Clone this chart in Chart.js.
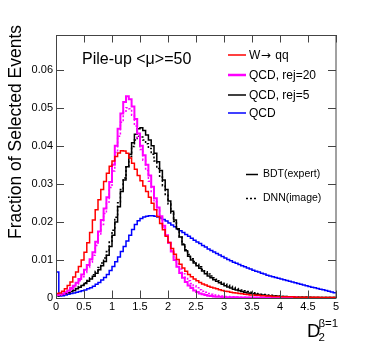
<!DOCTYPE html>
<html><head><meta charset="utf-8">
<script src="https://cdn.jsdelivr.net/npm/chart.js@4"></script>
<style>html,body{margin:0;padding:0;background:#fff;}canvas{display:block;}</style>
</head><body>
<canvas id="c" width="374" height="352"></canvas>
<script>
const binWidth = 0.05;
const xTicks = [0, 0.5, 1, 1.5, 2, 2.5, 3, 3.5, 4, 4.5, 5];
const xTickLabels = ['0', '0.5', '1', '1.5', '2', '2.5', '3', '3.5', '4', '4.5', '5'];
const yTicks = [0, 0.01, 0.02, 0.03, 0.04, 0.05, 0.06];
const yTickLabels = ['0', '0.01', '0.02', '0.03', '0.04', '0.05', '0.06'];
const seriesNames = ['W\u2192 qq', 'QCD, rej=20', 'QCD, rej=5', 'QCD'];
const styleNames = ['BDT(expert)', 'DNN(image)'];

const wqq = [0.0012,0.0013,0.0018,0.0024,0.0033,0.0042,0.0055,0.0068,0.0083,0.0100,
 0.0120,0.0145,0.0172,0.0205,0.0232,0.0258,0.0285,0.0306,0.0328,0.0346,
 0.0360,0.0372,0.0381,0.0387,0.0386,0.0380,0.0368,0.0354,0.0338,0.0322,
 0.0308,0.0294,0.0280,0.0265,0.0249,0.0232,0.0214,0.0196,0.0179,0.0162,
 0.0146,0.0130,0.0115,0.0101,0.0089,0.0079,0.0070,0.0062,0.0056,0.0050,
 0.0045,0.0041,0.0037,0.0034,0.0031,0.0028,0.0026,0.0024,0.0022,0.0020,
 0.0018,0.0017,0.0015,0.0014,0.0013,0.0012,0.0011,0.0010,0.0009,0.0008,
 0.0008,0.0007,0.0007,0.0006,0.0006,0.0005,0.0005,0.0004,0.0004,0.0004,
 0.0003,0.0003,0.0003,0.0003,0.0003,0.0002,0.0002,0.0002,0.0002,0.0002,
 0.0002,0.0002,0.0002,0.0002,0.0001,0.0001,0.0001,0.0001,0.0001,0.0001];

const qcdRej20Bdt = [0.0008,0.0009,0.0011,0.0015,0.0020,0.0026,0.0032,0.0040,0.0050,0.0062,
 0.0074,0.0087,0.0102,0.0120,0.0148,0.0175,0.0205,0.0235,0.0265,0.0305,
 0.0350,0.0400,0.0445,0.0485,0.0515,0.0530,0.0522,0.0503,0.0470,0.0432,
 0.0400,0.0375,0.0350,0.0322,0.0292,0.0262,0.0238,0.0215,0.0190,0.0165,
 0.0145,0.0122,0.0100,0.0082,0.0066,0.0053,0.0042,0.0033,0.0026,0.0020,
 0.0016,0.0012,0.0010,0.0008,0.0006,0.0005,0.0004,0.0003,0.0003,0.0002,
 0.0002,0.0002,0.0002,0.0002,0.0002,0.0001,0.0001,0.0001,0.0001,0.0001,
 0.0001,0.0001,0.0001,0.0001,0.0001,0.0001,0.0001,0.0001,0.0001,0.0001,
 0.0001,0.0001,0.0001,0.0001,0.0001,0.0001,0,0,0,0,
 0,0,0,0,0,0,0,0,0,0];

const qcdRej20Dnn = [0.0007,0.0008,0.0010,0.0013,0.0018,0.0023,0.0029,0.0036,0.0045,0.0056,
 0.0067,0.0080,0.0094,0.0112,0.0138,0.0165,0.0193,0.0222,0.0252,0.0290,
 0.0334,0.0382,0.0425,0.0462,0.0488,0.0500,0.0497,0.0480,0.0452,0.0420,
 0.0390,0.0362,0.0335,0.0307,0.0280,0.0253,0.0230,0.0207,0.0185,0.0163,
 0.0143,0.0124,0.0106,0.0090,0.0076,0.0064,0.0054,0.0045,0.0038,0.0032,
 0.0027,0.0022,0.0018,0.0015,0.0012,0.0010,0.0008,0.0007,0.0006,0.0005,
 0.0004,0.0004,0.0003,0.0003,0.0002,0.0002,0.0002,0.0002,0.0001,0.0001,
 0.0001,0.0001,0.0001,0.0001,0.0001,0.0001,0.0001,0.0001,0.0001,0.0001,
 0.0001,0.0001,0.0001,0.0001,0.0001,0.0001,0,0,0,0,
 0,0,0,0,0,0,0,0,0,0];

const qcdRej5Bdt = [0.0006,0.0008,0.0010,0.0012,0.0014,0.0017,0.0020,0.0024,0.0028,0.0033,
 0.0038,0.0044,0.0050,0.0057,0.0065,0.0074,0.0085,0.0096,0.0112,0.0135,
 0.0165,0.0200,0.0240,0.0280,0.0310,0.0345,0.0378,0.0408,0.0430,0.0445,
 0.0447,0.0440,0.0428,0.0415,0.0400,0.0380,0.0358,0.0335,0.0310,0.0285,
 0.0255,0.0228,0.0205,0.0182,0.0160,0.0140,0.0124,0.0110,0.0100,0.0092,
 0.0085,0.0078,0.0071,0.0064,0.0058,0.0053,0.0048,0.0044,0.0040,0.0036,
 0.0032,0.0029,0.0026,0.0023,0.0021,0.0019,0.0017,0.0015,0.0013,0.0012,
 0.0011,0.0010,0.0009,0.0008,0.0007,0.0006,0.0006,0.0005,0.0005,0.0004,
 0.0004,0.0004,0.0003,0.0003,0.0003,0.0002,0.0002,0.0002,0.0002,0.0002,
 0.0001,0.0001,0.0001,0.0001,0.0001,0.0001,0.0001,0.0001,0.0001,0.0001];

const qcdRej5Dnn = [0.0006,0.0008,0.0010,0.0012,0.0015,0.0018,0.0021,0.0025,0.0030,0.0035,
 0.0040,0.0046,0.0053,0.0061,0.0070,0.0080,0.0092,0.0105,0.0122,0.0147,
 0.0178,0.0212,0.0250,0.0285,0.0315,0.0345,0.0372,0.0398,0.0415,0.0425,
 0.0423,0.0415,0.0405,0.0393,0.0378,0.0360,0.0340,0.0318,0.0295,0.0272,
 0.0247,0.0223,0.0201,0.0180,0.0160,0.0142,0.0127,0.0114,0.0103,0.0096,
 0.0089,0.0082,0.0075,0.0069,0.0063,0.0058,0.0053,0.0049,0.0045,0.0041,
 0.0037,0.0034,0.0031,0.0028,0.0025,0.0023,0.0021,0.0019,0.0017,0.0015,
 0.0014,0.0012,0.0011,0.0010,0.0009,0.0008,0.0007,0.0007,0.0006,0.0005,
 0.0004,0.0004,0.0004,0.0003,0.0003,0.0003,0.0002,0.0002,0.0002,0.0002,
 0.0002,0.0001,0.0001,0.0001,0.0001,0.0001,0.0001,0.0001,0.0001,0.0001];

const qcd = [0.0068,0.0005,0.0006,0.0008,0.0010,0.0012,0.0013,0.0015,0.0017,0.0019,
 0.0021,0.0024,0.0027,0.0031,0.0036,0.0041,0.0047,0.0054,0.0062,0.0072,
 0.0083,0.0095,0.0108,0.0122,0.0135,0.0150,0.0165,0.0180,0.0193,0.0203,
 0.0209,0.0213,0.0215,0.0216,0.0216,0.0215,0.0213,0.0210,0.0206,0.0202,
 0.0197,0.0192,0.0187,0.0182,0.0177,0.0172,0.0167,0.0162,0.0157,0.0152,
 0.0147,0.0143,0.0138,0.0134,0.0129,0.0125,0.0121,0.0117,0.0113,0.0109,
 0.0105,0.0101,0.0098,0.0094,0.0091,0.0088,0.0085,0.0082,0.0079,0.0076,
 0.0073,0.0070,0.0068,0.0065,0.0063,0.0060,0.0058,0.0056,0.0054,0.0052,
 0.0050,0.0048,0.0046,0.0044,0.0042,0.0040,0.0038,0.0036,0.0034,0.0032,
 0.0030,0.0028,0.0027,0.0025,0.0023,0.0022,0.0020,0.0018,0.0016,0.0014];

// histogram outline: start at the axis, one point per lower bin edge, close at the upper edge
function histPoints(vals) {
  const pts = [{x: 0, y: 0}];
  vals.forEach((v, i) => pts.push({x: i * binWidth, y: v}));
  pts.push({x: vals.length * binWidth, y: vals[vals.length - 1]});
  return pts;
}

function ds(label, vals, color, width, dash) {
  return {label, data: histPoints(vals), borderColor: color, borderWidth: width,
    borderDash: dash || [], stepped: 'before', pointRadius: 0, fill: false, tension: 0};
}

const FONT = "'Liberation Sans', Arial, Helvetica, sans-serif";
Chart.defaults.font.family = FONT;

const overlay = {
  id: 'overlay',
  afterDatasetsDraw(chart) {
    const {ctx, chartArea: a, scales: {x, y}} = chart;
    ctx.save();
    ctx.strokeStyle = '#444';
    ctx.lineWidth = 1;
    ctx.strokeRect(a.left + 0.5, a.top + 0.5, a.right - a.left - 0.5, a.bottom - a.top);
    ctx.beginPath();
    xTicks.forEach(v => {
      const px = Math.round(x.getPixelForValue(v)) + 0.5;
      ctx.moveTo(px, a.bottom); ctx.lineTo(px, a.bottom - 7.5);
      ctx.moveTo(px, a.top); ctx.lineTo(px, a.top + 7.5);
    });
    yTicks.forEach(v => {
      const py = Math.round(y.getPixelForValue(v)) + 0.5;
      ctx.moveTo(a.left, py); ctx.lineTo(a.left + 8, py);
      ctx.moveTo(a.right, py); ctx.lineTo(a.right - 8, py);
    });
    ctx.stroke();

    ctx.fillStyle = '#000';
    ctx.textBaseline = 'middle';
    ctx.textAlign = 'left';
    ctx.font = '16px ' + FONT;
    ctx.fillText('Pile-up <\u03bc>=50', 82, 60);

    // legend
    const legColors = ['#ff0000', '#ff00ff', '#000000', '#0000ff'];
    const legWidths = [1.5, 2.5, 1.5, 1.5];
    const legY = [55, 75, 95, 113];
    ctx.font = '12px ' + FONT;
    seriesNames.forEach((n, i) => {
      ctx.beginPath();
      ctx.strokeStyle = legColors[i];
      ctx.lineWidth = legWidths[i];
      ctx.moveTo(228, legY[i]); ctx.lineTo(246, legY[i]);
      ctx.stroke();
      if (n.indexOf('\u2192') >= 0) {
        // draw the arrow with a font whose arrow glyph is full width
        const parts = n.split('\u2192');
        let tx = 249;
        ctx.font = '12px ' + FONT;
        ctx.fillText(parts[0], tx, legY[i] + 0.5);
        tx += ctx.measureText(parts[0]).width + 0.5;
        ctx.font = "12px 'DejaVu Sans', sans-serif";
        ctx.fillText('\u2192', tx, legY[i] + 0.5);
        tx += ctx.measureText('\u2192').width + 1;
        ctx.font = '12px ' + FONT;
        ctx.fillText(parts[1], tx, legY[i] + 0.5);
      } else {
        ctx.fillText(n, 249, legY[i] + 0.5);
      }
    });
    ctx.font = '10.5px ' + FONT;
    ctx.strokeStyle = '#000';
    ctx.lineWidth = 1.5;
    ctx.beginPath();
    ctx.moveTo(246, 174.5); ctx.lineTo(258, 174.5);
    ctx.stroke();
    ctx.setLineDash([2, 2]);
    ctx.beginPath();
    ctx.moveTo(246, 198.5); ctx.lineTo(258, 198.5);
    ctx.stroke();
    ctx.setLineDash([]);
    ctx.fillText(styleNames[0], 263, 174.5);
    ctx.fillText(styleNames[1], 263, 198.5);

    // axis titles
    ctx.save();
    ctx.translate(16, 25);
    ctx.rotate(-Math.PI / 2);
    ctx.textAlign = 'right';
    ctx.font = '17.5px ' + FONT;
    ctx.fillText('Fraction of Selected Events', 0, 0);
    ctx.restore();

    ctx.textBaseline = 'alphabetic';
    ctx.textAlign = 'left';
    ctx.font = '18.5px ' + FONT;
    ctx.fillText('D', 307, 337);
    ctx.font = '11.5px ' + FONT;
    ctx.fillText('2', 318.5, 341);
    ctx.fillText('\u03b2=1', 318.5, 326.5);
    ctx.restore();
  }
};

new Chart(document.getElementById('c'), {
  type: 'line',
  data: {
    datasets: [
      ds(seriesNames[0], wqq, '#ff0000', 1.5),
      ds(seriesNames[1], qcdRej20Bdt, '#ff00ff', 2),
      ds(seriesNames[1] + ' DNN', qcdRej20Dnn, '#ff00ff', 1.5, [2, 2]),
      ds(seriesNames[2], qcdRej5Bdt, '#000000', 1.5),
      ds(seriesNames[2] + ' DNN', qcdRej5Dnn, '#000000', 1.5, [2, 2]),
      ds(seriesNames[3], qcd, '#0000ff', 1.5)
    ]
  },
  options: {
    responsive: false,
    animation: false,
    devicePixelRatio: 1,
    layout: {padding: {top: 35, right: 38, left: 0, bottom: 0}},
    plugins: {legend: {display: false}, tooltip: {enabled: false}, title: {display: false}},
    scales: {
      x: {
        type: 'linear', min: 0, max: 5,
        afterBuildTicks: s => { s.ticks = xTicks.map(v => ({value: v})); },
        afterFit: s => { s.height = 54; },
        grid: {display: false, drawTicks: false},
        border: {display: false},
        ticks: {
          color: '#000', font: {size: 11, family: FONT}, padding: 2,
          maxRotation: 0, autoSkip: false,
          callback: v => { const i = xTicks.indexOf(v); return i >= 0 ? xTickLabels[i] : ''; }
        }
      },
      y: {
        type: 'linear', min: 0, max: 0.0691,
        afterBuildTicks: s => { s.ticks = yTicks.map(v => ({value: v})); },
        afterFit: s => { s.width = 56; },
        grid: {display: false, drawTicks: false},
        border: {display: false},
        ticks: {
          color: '#000', font: {size: 11, family: FONT}, padding: 3,
          autoSkip: false,
          callback: v => { const i = yTicks.indexOf(v); return i >= 0 ? yTickLabels[i] : ''; }
        }
      }
    }
  },
  plugins: [overlay]
});
</script>
</body></html>
